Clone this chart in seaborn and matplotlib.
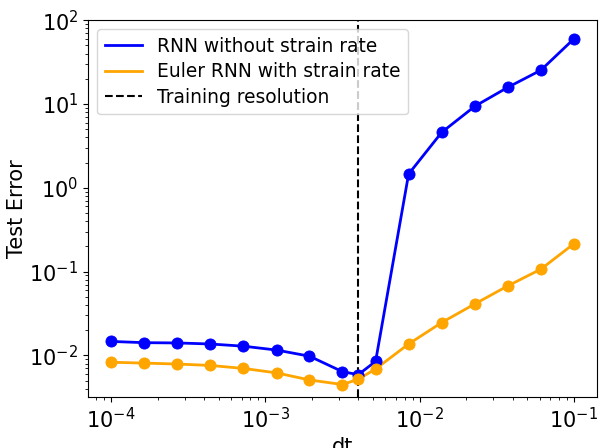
import numpy as np
import pandas as pd
import seaborn as sns
import matplotlib.pyplot as plt

# time steps (log-spaced) plus the training resolution 4e-3
dt = [1.00e-4, 1.64e-4, 2.68e-4, 4.39e-4, 7.20e-4, 1.18e-3, 1.93e-3, 3.16e-3,
      4.00e-3, 5.18e-3, 8.48e-3, 1.39e-2, 2.28e-2, 3.73e-2, 6.11e-2, 1.00e-1]

rnn_err = [0.0147, 0.0142, 0.0141, 0.0137, 0.0129, 0.0116, 0.0098, 0.0064,
           0.0059, 0.0085, 1.46, 4.59, 9.4, 15.8, 25.3, 59.8]
euler_err = [0.0083, 0.0081, 0.0079, 0.0076, 0.0070, 0.0062, 0.0051, 0.0045,
             0.0052, 0.0069, 0.0137, 0.0247, 0.0412, 0.0676, 0.107, 0.215]

train_dt = 4e-3

df = pd.DataFrame({"dt": dt, "rnn": rnn_err, "euler": euler_err})

fig, ax = plt.subplots(figsize=(5.99, 4.48), dpi=100)
fig.subplots_adjust(left=0.147, right=0.9967, top=0.955, bottom=0.114)

# lines (legend entries) and points drawn separately
sns.lineplot(data=df, x="dt", y="rnn", ax=ax, color="blue", linewidth=2,
             label="RNN without strain rate")
sns.lineplot(data=df, x="dt", y="euler", ax=ax, color="orange", linewidth=2,
             label="Euler RNN with strain rate")
sns.scatterplot(data=df, x="dt", y="rnn", ax=ax, color="blue", s=64,
                edgecolor="blue", zorder=3, legend=False)
sns.scatterplot(data=df, x="dt", y="euler", ax=ax, color="orange", s=64,
                edgecolor="orange", zorder=3, legend=False)
ax.axvline(train_dt, color="black", linestyle="--", linewidth=1.5,
           label="Training resolution")

ax.set_xscale("log")
ax.set_yscale("log")
ax.set_ylim(3.2e-3, 100)
ax.set_xlabel("dt", fontsize=15)
ax.set_ylabel("Test Error", fontsize=15, labelpad=2)
ax.tick_params(labelsize=15)
ax.legend(loc="upper left", fontsize=13.4, labelspacing=0.35)

plt.savefig("out.png", dpi=100)
